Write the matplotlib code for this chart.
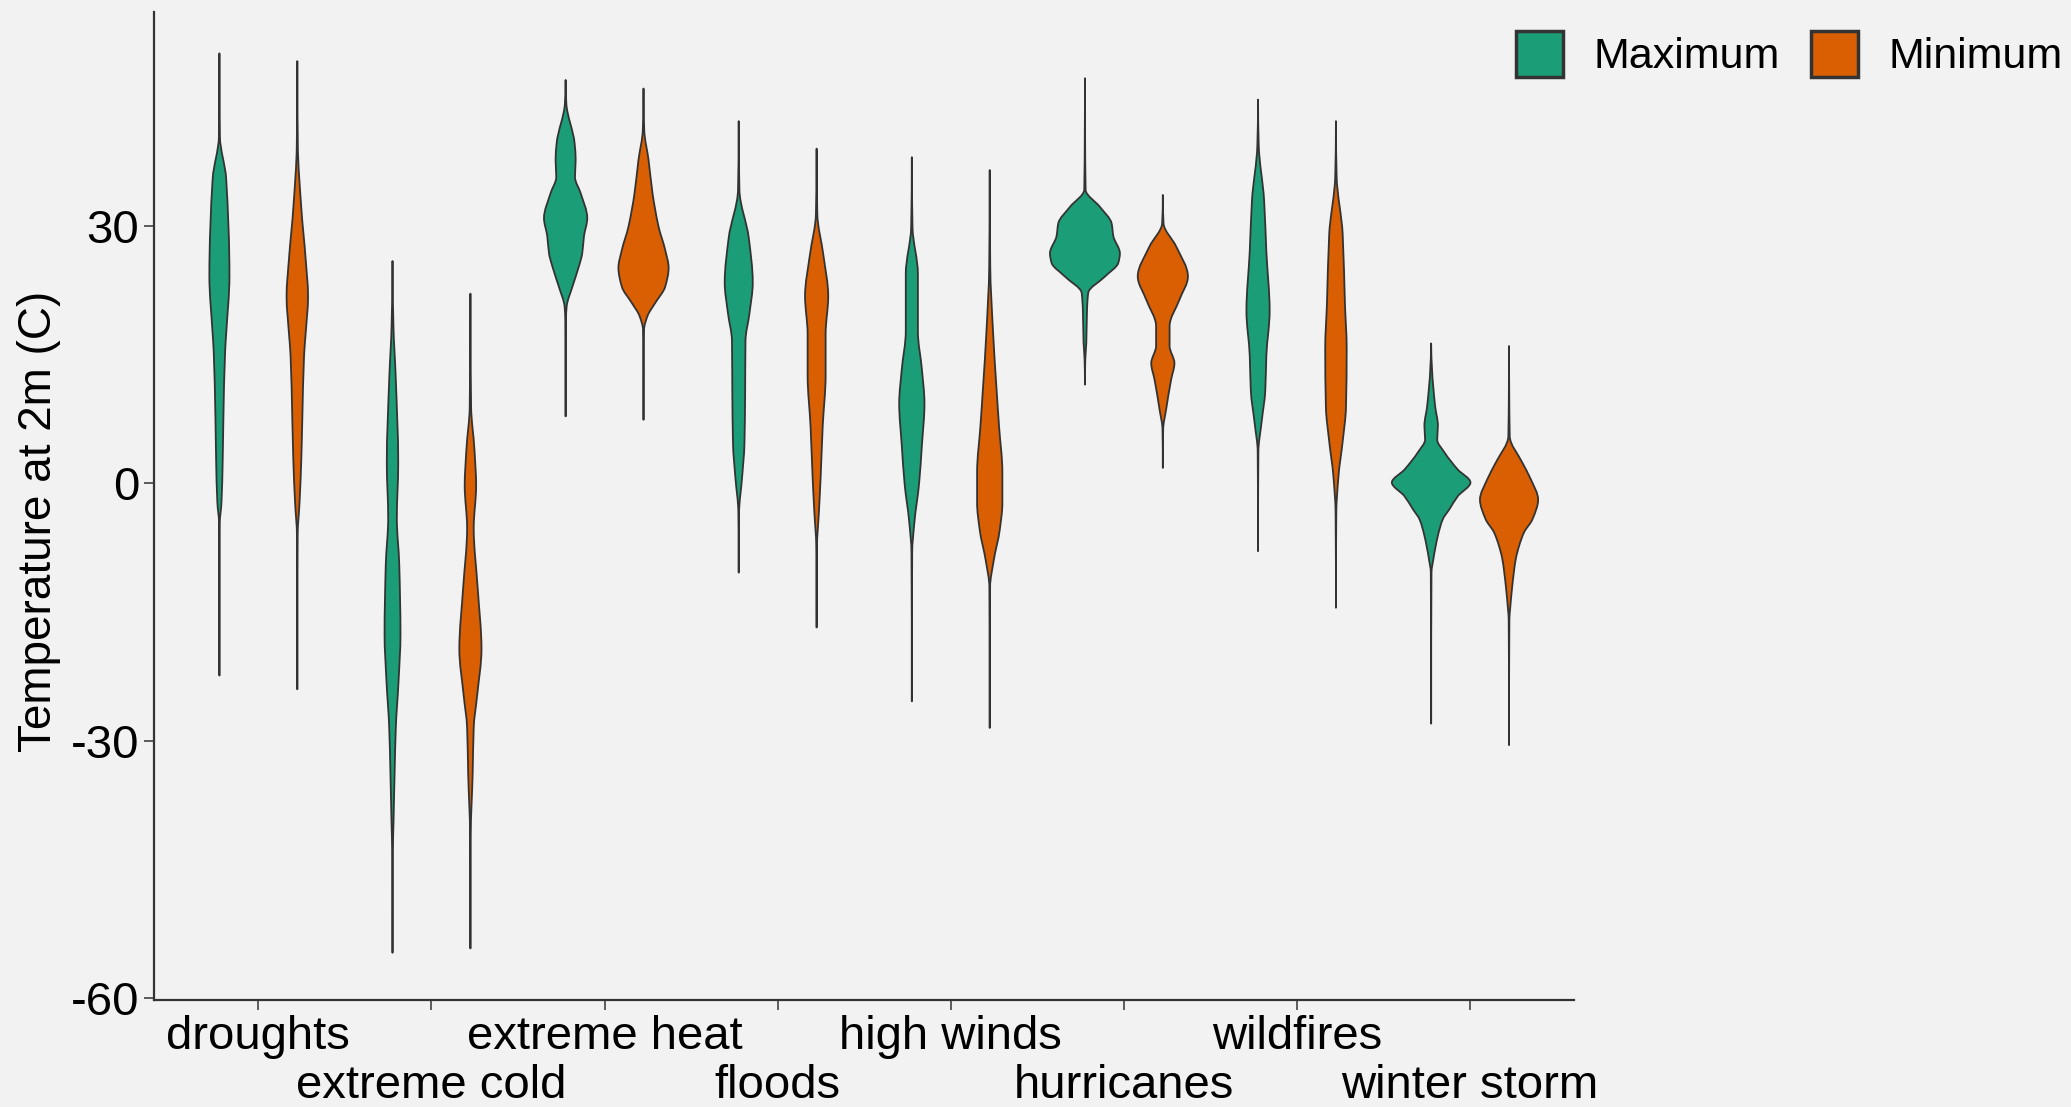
import numpy as np
import matplotlib
matplotlib.use("Agg")
import matplotlib.pyplot as plt
from matplotlib.patches import Patch, PathPatch
from matplotlib.path import Path

plt.rcParams['font.family'] = ['Liberation Sans', 'DejaVu Sans']

categories = ["droughts", "extreme cold", "extreme heat", "floods",
              "high winds", "hurricanes", "wildfires", "winter storm"]
series = ["Maximum", "Minimum"]
colors = ["#1B9E77", "#D95F02"]

# violin outlines: (temperature, half width) from the top of each violin to its bottom
max_profiles = [
    [(50.1, 0), (40.4, 0.003), (35.5, 0.039), (24.2, 0.058), (17.4, 0.039), (15.4, 0.033),
     (7.6, 0.023), (2.7, 0.019), (-2.2, 0.012), (-4.7, 0.002), (-22.4, 0)],
    [(25.9, 0), (18.6, 0.005), (12.1, 0.019), (2.4, 0.033), (-4.1, 0.025), (-9.5, 0.039),
     (-17.6, 0.046), (-23, 0.035), (-28.5, 0.019), (-33.8, 0.012), (-39.3, 0.006),
     (-43.1, 0.002), (-54.7, 0)],
    [(47, 0), (44.3, 0.004), (39.6, 0.052), (37.7, 0.058), (35.7, 0.054), (33.8, 0.087),
     (30.9, 0.125), (28.8, 0.106), (26.8, 0.096), (25.3, 0.077), (22.9, 0.039),
     (20.6, 0.006), (19.1, 0.002), (7.8, 0)],
    [(42.2, 0), (34.2, 0.004), (28.6, 0.058), (23.4, 0.081), (19.8, 0.062), (16.6, 0.039),
     (10.6, 0.037), (4.6, 0.033), (0.6, 0.019), (-3.4, 0.002), (-10.4, 0)],
    [(38, 0), (29.8, 0.004), (24.4, 0.035), (17.7, 0.035), (13.3, 0.058), (9.3, 0.073),
     (4.4, 0.058), (0, 0.042), (-4.5, 0.015), (-8.1, 0.002), (-25.4, 0)],
    [(47.2, 0), (34.2, 0.004), (32.2, 0.087), (30.3, 0.154), (28.8, 0.164), (26.8, 0.202),
     (25.7, 0.193), (24.1, 0.116), (22.2, 0.019), (20.2, 0.012), (16.4, 0.008),
     (14.4, 0.002), (11.5, 0)],
    [(44.7, 0), (39.4, 0.004), (33, 0.035), (27, 0.048), (20.1, 0.067), (14.9, 0.048),
     (10.9, 0.042), (6.9, 0.019), (3.7, 0.002), (-7.9, 0)],
    [(16.3, 0), (13.3, 0.005), (9, 0.023), (6.7, 0.039), (5.1, 0.035), (3.6, 0.077),
     (1.6, 0.154), (0.1, 0.227), (-1.5, 0.154), (-3, 0.106), (-4.2, 0.067), (-6.1, 0.039),
     (-8.8, 0.013), (-10.4, 0.002), (-28, 0)],
]

min_profiles = [
    [(49.2, 0), (39.4, 0.003), (32.1, 0.023), (26.2, 0.048), (21.8, 0.062), (17.4, 0.048),
     (14.9, 0.039), (7.6, 0.029), (2.7, 0.023), (-2.2, 0.013), (-6.1, 0.002), (-24, 0)],
    [(22.1, 0), (8.9, 0.004), (4, 0.023), (-0.3, 0.033), (-5.2, 0.019), (-12.2, 0.042),
     (-19.3, 0.064), (-24.7, 0.039), (-28.5, 0.019), (-33.8, 0.013), (-40.9, 0.002),
     (-54.2, 0)],
    [(46, 0), (41.2, 0.004), (37.7, 0.029), (33.8, 0.052), (29.9, 0.087), (27.2, 0.125),
     (25.1, 0.145), (22.9, 0.125), (21, 0.067), (19.5, 0.023), (17.9, 0.003), (7.4, 0)],
    [(39, 0), (31.4, 0.004), (26.6, 0.039), (21.8, 0.067), (17.4, 0.052), (12.6, 0.052),
     (6.6, 0.035), (0.6, 0.023), (-3.4, 0.013), (-7.4, 0.002), (-16.8, 0)],
    [(36.5, 0), (25.3, 0.003), (17.7, 0.019), (11.1, 0.039), (6.6, 0.054), (1.3, 0.073),
     (-2.3, 0.073), (-5.4, 0.058), (-9, 0.023), (-12.1, 0.002), (-28.5, 0)],
    [(33.6, 0), (30.3, 0.004), (27.6, 0.077), (24.1, 0.145), (21.4, 0.096), (18.3, 0.039),
     (16, 0.039), (14, 0.067), (12.1, 0.048), (8.6, 0.019), (6.3, 0.002), (1.8, 0)],
    [(42.2, 0), (35.8, 0.004), (29, 0.039), (20.9, 0.052), (15.7, 0.062), (8.9, 0.058),
     (4.9, 0.039), (0.9, 0.015), (-3.5, 0.002), (-14.5, 0)],
    [(16, 0), (5.5, 0.004), (2.4, 0.077), (0.5, 0.125), (-1.9, 0.168), (-4.2, 0.135),
     (-5.7, 0.087), (-7.3, 0.058), (-8.8, 0.039), (-11.9, 0.019), (-14.7, 0.006),
     (-15.8, 0.002), (-30.5, 0)],
]

yticks = [-60, -30, 0, 30]
dodge = 0.225
bg = "#F2F2F2"
edge = "#333333"


def outline_side(t, w):
    """Bezier vertices (w, t) through the knots, with monotone tangents so the
    width never dips below zero or overshoots between knots."""
    n = len(t)
    h = np.diff(t)
    d = np.diff(w) / h
    m = np.zeros(n)
    for k in range(1, n - 1):
        if d[k - 1] * d[k] > 0:
            w1 = 2 * h[k] + h[k - 1]
            w2 = h[k] + 2 * h[k - 1]
            m[k] = (w1 + w2) / (w1 / d[k - 1] + w2 / d[k])
    verts = [(w[0], t[0])]
    for k in range(n - 1):
        verts.append((w[k] + m[k] * h[k] / 3, t[k] + h[k] / 3))
        verts.append((w[k + 1] - m[k + 1] * h[k] / 3, t[k + 1] - h[k] / 3))
        verts.append((w[k + 1], t[k + 1]))
    return np.array(verts)


def violin_patch(cx, prof, color):
    t = np.array([p[0] for p in prof], dtype=float)
    w = np.array([p[1] for p in prof], dtype=float)
    side = outline_side(t, w)
    right = np.column_stack([cx + side[:, 0], side[:, 1]])
    left = np.column_stack([cx - side[::-1, 0], side[::-1, 1]])
    verts = np.vstack([right, left, right[:1]])
    ncurve = len(side) - 1
    codes = ([Path.MOVETO] + [Path.CURVE4] * ncurve +
             [Path.LINETO] + [Path.CURVE4] * ncurve + [Path.CLOSEPOLY])
    return PathPatch(Path(verts, codes), facecolor=color, edgecolor=edge,
                     linewidth=1.3, joinstyle="round", zorder=2)


fig = plt.figure(figsize=(20.71, 11.07), dpi=100, facecolor=bg)
ax = fig.add_axes([0.0746, 0.0967, 0.6854, 0.8923], facecolor=bg)

for i, cat in enumerate(categories):
    pos = i + 1
    ax.add_patch(violin_patch(pos - dodge, max_profiles[i], colors[0]))
    ax.add_patch(violin_patch(pos + dodge, min_profiles[i], colors[1]))

ax.set_xlim(0.4, 8.6)
ax.set_ylim(-60.2, 54.9)

# category labels alternate between two rows
positions = np.arange(1, len(categories) + 1)
ax.set_xticks(positions[0::2])
ax.set_xticklabels(categories[0::2])
ax.set_xticks(positions[1::2], minor=True)
ax.set_xticklabels(categories[1::2], minor=True)
ax.set_yticks(yticks)
ax.set_yticklabels([str(v) for v in yticks])
ax.tick_params(axis="both", which="both", labelsize=34, length=7, width=1.1,
               color=edge, labelcolor="black", pad=4)
ax.tick_params(axis="x", which="minor", pad=39)

for side in ["top", "right"]:
    ax.spines[side].set_visible(False)
for side in ["left", "bottom"]:
    ax.spines[side].set_color(edge)
    ax.spines[side].set_linewidth(1.6)

ax.set_ylabel("Temperature at 2m (C)", fontsize=33)
ax.yaxis.set_label_coords(-0.066, 0.484)

handles = [Patch(facecolor=colors[k], edgecolor=edge, linewidth=2.5, label=series[k])
           for k in range(2)]
fig.legend(handles=handles, loc="upper right", bbox_to_anchor=(0.996, 0.972),
           ncol=2, frameon=False, fontsize=31, handlelength=1.1, handleheight=1.25,
           handletextpad=0.7, columnspacing=0.72, borderpad=0, borderaxespad=0)

fig.savefig("out.png", dpi=100, facecolor=bg)
